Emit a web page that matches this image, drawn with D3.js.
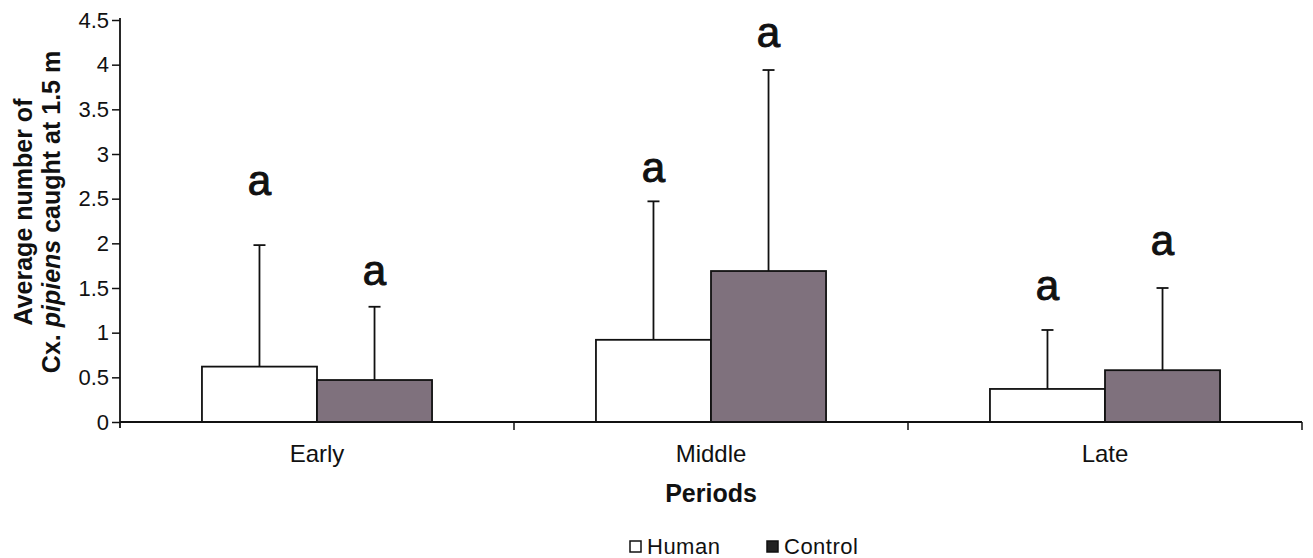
<!DOCTYPE html>
<html>
<head>
<meta charset="utf-8">
<script src="https://cdn.jsdelivr.net/npm/d3@7"></script>
<style>
  body { margin: 0; background: #fff; }
  svg { font-family: "Liberation Sans", Arial, sans-serif; }
</style>
</head>
<body>
<svg width="1313" height="558"></svg>
<script>
var periods  = ["Early", "Middle", "Late"];
var groups   = ["Human", "Control"];
var human    = [0.62, 0.92, 0.37];
var control  = [0.47, 1.69, 0.58];
var humanErr   = [1.98, 2.47, 1.03];   // top of error bar
var controlErr = [1.29, 3.94, 1.50];
var humanLetter   = ["a", "a", "a"];
var controlLetter = ["a", "a", "a"];
var humanLetterAt   = [2.54, 2.69, 1.37];  // baseline of letter, in y units
var controlLetterAt = [1.53, 4.20, 1.87];
var yTicks = [0, 0.5, 1, 1.5, 2, 2.5, 3, 3.5, 4, 4.5];

var svg = d3.select("svg");

var x = d3.scaleBand().domain(periods).range([120, 1302]).paddingInner(0.416).paddingOuter(0.208);
var x1 = d3.scaleBand().domain(groups).range([0, x.bandwidth()]);
var y = d3.scaleLinear().domain([0, 4.5]).range([422, 20]);

var colors = { Human: "#ffffff", Control: "#7f717d" };

var data = [];
periods.forEach(function(p, i) {
  data.push({ period: p, group: "Human", value: human[i], err: humanErr[i], letter: humanLetter[i], letterAt: humanLetterAt[i] });
  data.push({ period: p, group: "Control", value: control[i], err: controlErr[i], letter: controlLetter[i], letterAt: controlLetterAt[i] });
});

function cx(d) { return x(d.period) + x1(d.group) + x1.bandwidth() / 2; }

// bars
svg.append("g").selectAll("rect")
  .data(data)
  .enter().append("rect")
  .attr("x", function(d) { return x(d.period) + x1(d.group); })
  .attr("y", function(d) { return y(d.value); })
  .attr("width", x1.bandwidth())
  .attr("height", function(d) { return y(0) - y(d.value); })
  .attr("fill", function(d) { return colors[d.group]; })
  .attr("stroke", "#111")
  .attr("stroke-width", 1.8);

// error bars (upper only)
var eb = svg.append("g").attr("stroke", "#111").attr("stroke-width", 1.8);
eb.selectAll("line.v")
  .data(data)
  .enter().append("line")
  .attr("class", "v")
  .attr("x1", cx).attr("x2", cx)
  .attr("y1", function(d) { return y(d.value); })
  .attr("y2", function(d) { return y(d.err); });
eb.selectAll("line.cap")
  .data(data)
  .enter().append("line")
  .attr("class", "cap")
  .attr("x1", function(d) { return cx(d) - 6; })
  .attr("x2", function(d) { return cx(d) + 6; })
  .attr("y1", function(d) { return y(d.err); })
  .attr("y2", function(d) { return y(d.err); });

// significance letters
svg.append("g").selectAll("text")
  .data(data)
  .enter().append("text")
  .attr("x", cx)
  .attr("y", function(d) { return y(d.letterAt); })
  .attr("text-anchor", "middle")
  .attr("font-size", 42)
  .attr("fill", "#111")
  .attr("stroke", "#111")
  .attr("stroke-width", 1)
  .text(function(d) { return d.letter; });

// y axis
var yAxis = svg.append("g")
  .attr("transform", "translate(120,0)")
  .call(d3.axisLeft(y).tickValues(yTicks).tickSizeInner(8).tickSizeOuter(0).tickPadding(3)
    .tickFormat(function(d) { return d; }));
yAxis.select(".domain").attr("stroke", "#111").attr("stroke-width", 1.8).attr("d", "M0,18V428");
yAxis.selectAll(".tick line").attr("stroke", "#111").attr("stroke-width", 1.5);
yAxis.selectAll("text").attr("font-size", 22).attr("fill", "#111");

// x axis: labels centred in bands, ticks at band edges
var xAxis = svg.append("g")
  .attr("transform", "translate(0,422)")
  .call(d3.axisBottom(x).tickSize(0).tickPadding(23));
xAxis.select(".domain").attr("stroke", "#111").attr("stroke-width", 2).attr("d", "M120,0H1302");
xAxis.selectAll("text").attr("font-size", 24).attr("fill", "#111");

svg.append("g").selectAll("line")
  .data(periods)
  .enter().append("line")
  .attr("x1", function(d) { return x(d) - x.step() * x.paddingOuter() + x.step(); })
  .attr("x2", function(d) { return x(d) - x.step() * x.paddingOuter() + x.step(); })
  .attr("y1", 422).attr("y2", 430)
  .attr("stroke", "#111").attr("stroke-width", 1.5);

// axis titles
svg.append("text")
  .attr("x", x("Middle") + x.bandwidth() / 2)
  .attr("y", 502)
  .attr("text-anchor", "middle")
  .attr("font-size", 25)
  .attr("font-weight", "bold")
  .attr("fill", "#111")
  .text("Periods");

var yt = svg.append("text")
  .attr("transform", "translate(32,212) rotate(-90)")
  .attr("text-anchor", "middle")
  .attr("font-size", 25)
  .attr("font-weight", "bold")
  .attr("fill", "#111");
yt.append("tspan").attr("x", 0).attr("y", 0).text("Average number of");
var l2 = yt.append("tspan").attr("x", 0).attr("y", 28);
l2.text("Cx. ");
yt.append("tspan").attr("font-style", "italic").text("pipiens");
yt.append("tspan").text(" caught at 1.5 m");

// legend
var legend = svg.append("g");
var legendX = { Human: 630, Control: 767 };
groups.forEach(function(g) {
  legend.append("rect")
    .attr("x", legendX[g]).attr("y", 541)
    .attr("width", 11).attr("height", 11)
    .attr("fill", colors[g] === "#ffffff" ? "#fff" : "#222")
    .attr("stroke", "#111").attr("stroke-width", 1.5);
  legend.append("text")
    .attr("x", legendX[g] + 17).attr("y", 554)
    .attr("font-size", 22)
    .attr("letter-spacing", 0.5)
    .attr("fill", "#111")
    .text(g);
});
</script>
</body>
</html>
